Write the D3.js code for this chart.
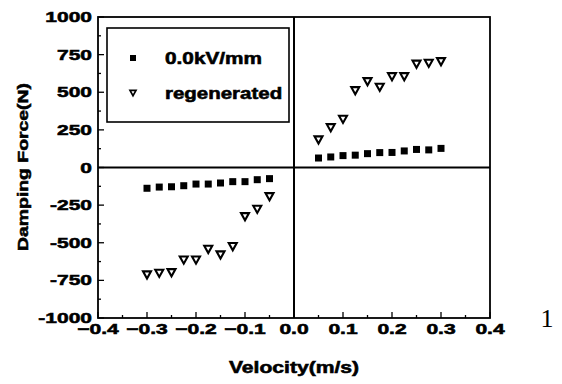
<!DOCTYPE html>
<html><head><meta charset="utf-8">
<script src="https://cdn.jsdelivr.net/npm/d3@7"></script>
<style>
html,body{margin:0;padding:0;background:#fff;}
text{font-family:"Liberation Sans",Arial,sans-serif;font-weight:bold;fill:#000;}
</style></head>
<body><svg id="c" width="562" height="384"></svg>
<script>
// ---- data ----
const velPos = [0.05, 0.075, 0.1, 0.125, 0.15, 0.175, 0.2, 0.225, 0.25, 0.275, 0.3];
const velNeg = [-0.3, -0.275, -0.25, -0.225, -0.2, -0.175, -0.15, -0.125, -0.1, -0.075, -0.05];
const sqPos  = [63, 70, 79, 82, 92, 99, 100, 110, 120, 117, 127];
const triPos = [183, 264, 320, 510, 570, 533, 603, 603, 686, 692, 703];
const sqNeg  = [-138, -130, -128, -121, -110, -110, -103, -94, -94, -81, -74];
const triNeg = [-714, -703, -699, -615, -615, -544, -581, -526, -327, -278, -194];
const xTicks = [-0.4, -0.3, -0.2, -0.1, 0.0, 0.1, 0.2, 0.3, 0.4];
const yTicks = [-1000, -750, -500, -250, 0, 250, 500, 750, 1000];
const seriesNames = ["0.0kV/mm", "regenerated"];

const svg = d3.select("#c");
const L = 98, R = 490, T = 17, B = 318;
const x = d3.scaleLinear().domain([-0.4, 0.4]).range([L, R]);
const y = d3.scaleLinear().domain([-1000, 1000]).range([B, T]);

// stretched, heavy text helper
function stext(g, tx, ty, str, size, sx, anchor, rot) {
  return g.append("text")
    .attr("transform", `translate(${tx},${ty})` + (rot ? ` rotate(${rot})` : "") + ` scale(${sx},1)`)
    .attr("text-anchor", anchor).attr("font-size", size)
    .attr("stroke", "#000").attr("stroke-width", 0.55).text(str);
}

// minor / major ticks (inside)
const xMinor = d3.range(-8, 9).map(i => i * 0.05);
const yMinor = d3.range(-8, 9).map(i => i * 125);
const tg = svg.append("g").attr("stroke", "#000").attr("stroke-width", 1.3);
xMinor.forEach(v => {
  const major = Math.abs(Math.round(v * 100) % 10) === 0;
  tg.append("line").attr("x1", x(v)).attr("x2", x(v)).attr("y1", B).attr("y2", B - (major ? 6 : 3));
});
yMinor.forEach(v => {
  const major = v % 250 === 0;
  tg.append("line").attr("y1", y(v)).attr("y2", y(v)).attr("x1", L).attr("x2", L + (major ? 6 : 3));
});

// zero lines
svg.append("line").attr("x1", L).attr("x2", R).attr("y1", y(0)).attr("y2", y(0))
  .attr("stroke", "#000").attr("stroke-width", 2);
svg.append("line").attr("x1", x(0)).attr("x2", x(0)).attr("y1", T).attr("y2", B)
  .attr("stroke", "#000").attr("stroke-width", 2);

// frame
svg.append("rect").attr("x", L).attr("y", T).attr("width", R - L).attr("height", B - T)
  .attr("fill", "none").attr("stroke", "#000").attr("stroke-width", 1.8);

// tick labels
const lg = svg.append("g");
xTicks.forEach(v => stext(lg, x(v), 334, d3.format(".1f")(v), 14.5, 1.45, "middle"));
yTicks.forEach(v => stext(lg, 92, y(v) + 5, String(v), 15, 1.4, "end"));

// axis titles
stext(lg, x(0), 373, "Velocity(m/s)", 16, 1.32, "middle");
stext(lg, 28, 167, "Damping Force(N)", 15.5, 1.25, "middle", -90);
lg.append("text").attr("x", 547).attr("y", 327).attr("text-anchor", "middle")
  .style("font-family", "'Liberation Serif','Times New Roman',serif").style("font-weight", "normal")
  .attr("font-size", 26).text("1");

// markers
function squares(xs, ys, s) {
  svg.append("g").selectAll("rect").data(xs.map((v, i) => [v, ys[i]])).join("rect")
    .attr("x", d => x(d[0]) - s / 2).attr("y", d => y(d[1]) - s / 2)
    .attr("width", s).attr("height", s).attr("fill", "#000");
}
function tri(cx, cy, w) {
  const h = w * 0.9;
  return `M${cx - w / 2},${cy - h / 2}L${cx + w / 2},${cy - h / 2}L${cx},${cy + h / 2}Z`;
}
function triangles(xs, ys, w) {
  svg.append("g").selectAll("path").data(xs.map((v, i) => [v, ys[i]])).join("path")
    .attr("d", d => tri(x(d[0]), y(d[1]), w))
    .attr("fill", "#fff").attr("stroke", "#000").attr("stroke-width", 2.1).attr("stroke-linejoin", "miter");
}
squares(velPos, sqPos, 7);
squares(velNeg, sqNeg, 7);
triangles(velPos, triPos, 8);
triangles(velNeg, triNeg, 8);

// legend
const leg = svg.append("g");
leg.append("rect").attr("x", 107).attr("y", 28).attr("width", 182).attr("height", 94)
  .attr("fill", "#fff").attr("stroke", "#000").attr("stroke-width", 1.6);
leg.append("rect").attr("x", 130).attr("y", 55).attr("width", 6).attr("height", 6).attr("fill", "#000");
leg.append("path").attr("d", tri(133, 93, 6)).attr("fill", "#fff").attr("stroke", "#000").attr("stroke-width", 1.7);
stext(leg, 165, 64, seriesNames[0], 16, 1.3, "start");
stext(leg, 165, 99, seriesNames[1], 16, 1.28, "start");
</script></body></html>
